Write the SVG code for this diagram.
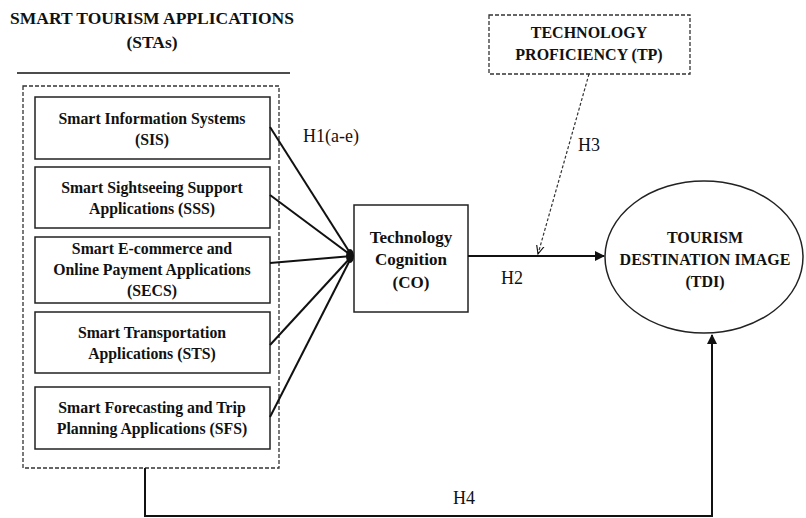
<svg xmlns="http://www.w3.org/2000/svg" width="806" height="518" viewBox="0 0 806 518">
<style>
text{font-family:"Liberation Serif","Times New Roman",serif;fill:#111;text-anchor:middle}
.b{font-weight:bold;font-size:15.8px}
.t{font-weight:bold;font-size:16px}
.h{font-size:18px}
.c{font-weight:bold;font-size:17px}
.box{fill:#fff;stroke:#222;stroke-width:1.5}
.dash{fill:none;stroke:#333;stroke-width:1.3;stroke-dasharray:4,2}
.ln{fill:none;stroke:#111;stroke-width:2}
</style>
<defs>
<marker id="ah" viewBox="0 0 10 10" refX="9" refY="5" markerWidth="5" markerHeight="5" orient="auto"><path d="M0,0L10,5L0,10z" fill="#111"/></marker>
<marker id="oa" viewBox="0 0 10 10" refX="9" refY="5" markerWidth="8" markerHeight="8" orient="auto"><path d="M0,1L9,5L0,9" fill="none" stroke="#111" stroke-width="1.2"/></marker>
</defs>
<g id="title">
<text font-weight="bold" font-size="17.5" x="152" y="24">SMART TOURISM APPLICATIONS</text>
<text font-weight="bold" font-size="17.5" x="152" y="48">(STAs)</text>
<line x1="17" y1="73" x2="290" y2="73" stroke="#111" stroke-width="1.5"/>
</g>
<g id="stas"><rect class="dash" x="23" y="86" width="256" height="382"/></g>
<g id="sis"><rect class="box" x="35" y="97" width="235" height="62"/>
<text class="b" x="152" y="124">Smart Information Systems</text><text class="b" x="152" y="145">(SIS)</text></g>
<g id="sss"><rect class="box" x="35" y="167" width="235" height="61"/>
<text class="b" x="152" y="193">Smart Sightseeing Support</text><text class="b" x="152" y="214">Applications (SSS)</text></g>
<g id="secs"><rect class="box" x="35" y="237" width="235" height="66"/>
<text class="b" x="152" y="254">Smart E-commerce and</text><text class="b" x="152" y="275">Online Payment Applications</text><text class="b" x="152" y="296">(SECS)</text></g>
<g id="sts"><rect class="box" x="35" y="312" width="235" height="61"/>
<text class="b" x="152" y="338">Smart Transportation</text><text class="b" x="152" y="359">Applications (STS)</text></g>
<g id="sfs"><rect class="box" x="35" y="387" width="235" height="62"/>
<text class="b" x="152" y="413">Smart Forecasting and Trip</text><text class="b" x="152" y="434">Planning Applications (SFS)</text></g>
<g id="co"><rect class="box" x="354" y="205" width="114" height="107"/>
<text class="c" x="411" y="243">Technology</text><text class="c" x="411" y="265">Cognition</text><text class="c" x="411" y="288">(CO)</text></g>
<g id="tp"><rect class="dash" x="489" y="15" width="201" height="59"/>
<text class="t" x="589" y="38">TECHNOLOGY</text><text class="t" x="589" y="60">PROFICIENCY (TP)</text></g>
<g id="tdi"><ellipse cx="704" cy="257" rx="99" ry="76" fill="#fff" stroke="#222" stroke-width="1.5"/>
<text class="t" x="705" y="243">TOURISM</text><text class="t" x="705" y="265">DESTINATION IMAGE</text><text class="t" x="705" y="287">(TDI)</text></g>
<g id="connectors">
<line class="ln" x1="270" y1="127" x2="352" y2="256"/>
<line class="ln" x1="270" y1="195" x2="352" y2="256"/>
<line class="ln" x1="270" y1="263" x2="352" y2="256"/>
<line class="ln" x1="270" y1="345" x2="352" y2="256"/>
<line class="ln" x1="270" y1="417" x2="352" y2="256"/>
<ellipse cx="350" cy="256" rx="4" ry="7" fill="#111"/>
<line class="ln" x1="468" y1="256" x2="604" y2="256" marker-end="url(#ah)"/>
<line x1="589" y1="74" x2="538" y2="254" stroke="#333" stroke-width="1.2" stroke-dasharray="3,2" marker-end="url(#oa)"/>
<polyline class="ln" points="145,468 145,516 712,516 712,335" marker-end="url(#ah)"/>
<text class="h" x="331" y="142">H1(a-e)</text>
<text class="h" x="512" y="284">H2</text>
<text class="h" x="589" y="151">H3</text>
<text class="h" x="464" y="504">H4</text>
</g>
</svg>
